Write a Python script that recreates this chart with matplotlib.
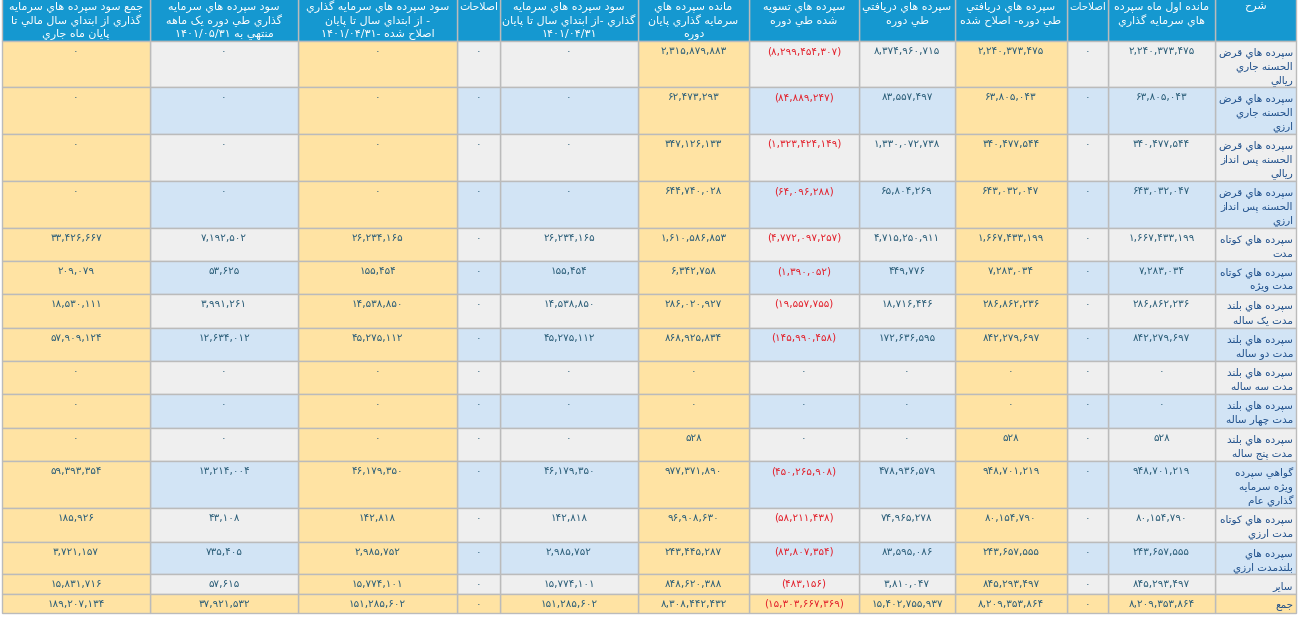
import re
import matplotlib
matplotlib.use("Agg")
import matplotlib.pyplot as plt
from matplotlib.patches import Rectangle

plt.rcParams['font.family'] = ['DejaVu Sans']

# ---- table content (columns in the original right-to-left order) ----
headers = [
    "شرح",
    "مانده اول ماه سپرده\nهاي سرمايه گذاري",
    "اصلاحات",
    "سپرده هاي دريافتي\nطي دوره- اصلاح شده",
    "سپرده هاي دريافتي\nطي دوره",
    "سپرده هاي تسويه\nشده طي دوره",
    "مانده سپرده هاي\nسرمايه گذاري پايان\nدوره",
    "سود سپرده هاي سرمايه\nگذاري -از ابتداي سال تا پايان\n۱۴۰۱/۰۴/۳۱",
    "اصلاحات",
    "سود سپرده هاي سرمايه گذاري\n- از ابتداي سال تا پايان\nاصلاح شده -۱۴۰۱/۰۴/۳۱",
    "سود سپرده هاي سرمايه\nگذاري طي دوره يک ماهه\nمنتهي به ۱۴۰۱/۰۵/۳۱",
    "جمع سود سپرده هاي سرمايه\nگذاري از ابتداي سال مالي تا\nپايان ماه جاري",
]

row_labels = [
    "سپرده هاي قرض\nالحسنه جاري\nريالي",
    "سپرده هاي قرض\nالحسنه جاري\nارزي",
    "سپرده هاي قرض\nالحسنه پس انداز\nريالي",
    "سپرده هاي قرض\nالحسنه پس انداز\nارزي",
    "سپرده هاي کوتاه\nمدت",
    "سپرده هاي کوتاه\nمدت ويژه",
    "سپرده هاي بلند\nمدت يک ساله",
    "سپرده هاي بلند\nمدت دو ساله",
    "سپرده هاي بلند\nمدت سه ساله",
    "سپرده هاي بلند\nمدت چهار ساله",
    "سپرده هاي بلند\nمدت پنج ساله",
    "گواهي سپرده\nويژه سرمايه\nگذاري عام",
    "سپرده هاي کوتاه\nمدت ارزي",
    "سپرده هاي\nبلندمدت ارزي",
    "ساير",
    "جمع",
]

mandeh_aval = [2240373475, 63805043, 340477544, 643032047, 1667433199, 7283034,
               286862236, 842279697, 0, 0, 528, 948701219, 80154790, 243657555,
               845293497, 8209353864]
eslahat_1 = [0, 0, 0, 0, 0, 0, 0, 0, 0, 0, 0, 0, 0, 0, 0, 0]
daryafti_eslah = [2240373475, 63805043, 340477544, 643032047, 1667433199, 7283034,
                  286862236, 842279697, 0, 0, 528, 948701219, 80154790, 243657555,
                  845293497, 8209353864]
daryafti = [8374960715, 83557497, 1330072738, 65804269, 4715250911, 449776,
            18716446, 172636595, 0, 0, 0, 478936579, 74965278, 83595086,
            3810047, 15402755937]
tasvieh = [8299454307, 84889247, 1323424149, 64096288, 4772097257, 1390052,
           19557755, 145990458, 0, 0, 0, 450265908, 58211438, 83807354,
           483156, 15303667369]
mandeh_payan = [2315879883, 62473293, 347126133, 644740028, 1610586853, 6342758,
                286020927, 868925834, 0, 0, 528, 977371890, 96908630, 243445287,
                848620388, 8308442432]
sood_04 = [0, 0, 0, 0, 26234165, 155454, 14538850, 45275112, 0, 0, 0,
           46179350, 142818, 2985752, 15774101, 151285602]
eslahat_2 = [0, 0, 0, 0, 0, 0, 0, 0, 0, 0, 0, 0, 0, 0, 0, 0]
sood_04_eslah = [0, 0, 0, 0, 26234165, 155454, 14538850, 45275112, 0, 0, 0,
                 46179350, 142818, 2985752, 15774101, 151285602]
sood_mah = [0, 0, 0, 0, 7192502, 53625, 3991261, 12634012, 0, 0, 0,
            13214004, 43108, 735405, 57615, 37921532]
jam_sood = [0, 0, 0, 0, 33426667, 209079, 18530111, 57909124, 0, 0, 0,
            59393354, 185926, 3721157, 15831716, 189207134]

# numeric columns, right to left after the label column
num_cols = [mandeh_aval, eslahat_1, daryafti_eslah, daryafti, tasvieh, mandeh_payan,
            sood_04, eslahat_2, sood_04_eslah, sood_mah, jam_sood]
neg_col = 4          # tasvieh is shown in red brackets
yellow_cols = {3, 6, 9, 11}   # logical column index (0 = شرح)

# ---- simple arabic shaping + rtl ordering (matplotlib does neither) ----
FORMS = {
    'ا': ('\uFE8D', '\uFE8E'), 'آ': ('\uFE81', '\uFE82'),
    'د': ('\uFEA9', '\uFEAA'), 'ذ': ('\uFEAB', '\uFEAC'),
    'ر': ('\uFEAD', '\uFEAE'), 'ز': ('\uFEAF', '\uFEB0'),
    'ژ': ('\uFB8A', '\uFB8B'), 'و': ('\uFEED', '\uFEEE'),
    'ب': ('\uFE8F', '\uFE90', '\uFE91', '\uFE92'),
    'پ': ('\uFB56', '\uFB57', '\uFB58', '\uFB59'),
    'ت': ('\uFE95', '\uFE96', '\uFE97', '\uFE98'),
    'ج': ('\uFE9D', '\uFE9E', '\uFE9F', '\uFEA0'),
    'چ': ('\uFB7A', '\uFB7B', '\uFB7C', '\uFB7D'),
    'ح': ('\uFEA1', '\uFEA2', '\uFEA3', '\uFEA4'),
    'س': ('\uFEB1', '\uFEB2', '\uFEB3', '\uFEB4'),
    'ش': ('\uFEB5', '\uFEB6', '\uFEB7', '\uFEB8'),
    'ص': ('\uFEB9', '\uFEBA', '\uFEBB', '\uFEBC'),
    'ض': ('\uFEBD', '\uFEBE', '\uFEBF', '\uFEC0'),
    'ط': ('\uFEC1', '\uFEC2', '\uFEC3', '\uFEC4'),
    'ع': ('\uFEC9', '\uFECA', '\uFECB', '\uFECC'),
    'ف': ('\uFED1', '\uFED2', '\uFED3', '\uFED4'),
    'ق': ('\uFED5', '\uFED6', '\uFED7', '\uFED8'),
    'ک': ('\uFB8E', '\uFB8F', '\uFB90', '\uFB91'),
    'گ': ('\uFB92', '\uFB93', '\uFB94', '\uFB95'),
    'ل': ('\uFEDD', '\uFEDE', '\uFEDF', '\uFEE0'),
    'م': ('\uFEE1', '\uFEE2', '\uFEE3', '\uFEE4'),
    'ن': ('\uFEE5', '\uFEE6', '\uFEE7', '\uFEE8'),
    'ه': ('\uFEE9', '\uFEEA', '\uFEEB', '\uFEEC'),
    'ي': ('\uFEF1', '\uFEF2', '\uFEF3', '\uFEF4'),
    'ی': ('\uFBFC', '\uFBFD', '\uFBFE', '\uFBFF'),
}
LAM_ALEF = {'ا': ('\uFEFB', '\uFEFC'), 'آ': ('\uFEF5', '\uFEF6')}


def dual(c):
    return c in FORMS and len(FORMS[c]) == 4


def shape(txt):
    out = []
    i = 0
    while i < len(txt):
        c = txt[i]
        linked_prev = i > 0 and dual(txt[i - 1])
        if c == 'ل' and i + 1 < len(txt) and txt[i + 1] in LAM_ALEF:
            out.append(LAM_ALEF[txt[i + 1]][1 if linked_prev else 0])
            i += 2
            continue
        if c not in FORMS:
            out.append(c)
            i += 1
            continue
        f = FORMS[c]
        nxt = txt[i + 1] if i + 1 < len(txt) else ''
        linked_next = len(f) == 4 and nxt in FORMS
        if linked_prev and linked_next:
            out.append(f[3])
        elif linked_prev:
            out.append(f[1])
        elif linked_next:
            out.append(f[2])
        else:
            out.append(f[0])
        i += 1
    return ''.join(out)


def fa(line):
    # keep digit runs left-to-right, flip everything else
    toks = re.findall(r'[0-9۰-۹][0-9۰-۹/,]*|.', shape(line))
    return ''.join(reversed(toks))


FA_DIGITS = str.maketrans('0123456789', '۰۱۲۳۴۵۶۷۸۹')


def fa_num(v):
    return f"{v:,}".translate(FA_DIGITS)


# ---- layout ----
W, H = 1298, 618
col_edges = [2, 150, 298, 457, 500, 638, 749, 859, 955, 1067, 1108, 1215, 1296]
row_edges = [-2, 41, 87, 134, 181, 228, 261, 294, 328, 361, 394, 428, 461, 508,
             542, 574, 594, 613]

HEAD_BG = '#1598D0'
YELLOW = '#FFE3A3'
GRAY = '#EFEFEF'
BLUE = '#D2E4F5'
GRID = '#BBBBBB'
NUM_C = '#2A5D78'
LBL_C = '#1D4E8A'
RED = '#E3202B'

fig = plt.figure(figsize=(W / 100, H / 100), dpi=100)
ax = fig.add_axes([0, 0, 1, 1])
ax.set_xlim(0, W)
ax.set_ylim(H, 0)
ax.axis('off')
renderer = fig.canvas.get_renderer()

ncol = len(col_edges) - 1


def xspan(logical_col):
    # logical col 0 is the rightmost column
    v = ncol - 1 - logical_col
    return col_edges[v], col_edges[v + 1]


# header
for j, h in enumerate(headers):
    x0, x1 = xspan(j)
    ax.add_patch(Rectangle((x0, row_edges[0]), x1 - x0, row_edges[1] - row_edges[0],
                           facecolor=HEAD_BG, edgecolor=GRID, lw=1))
    lines = []
    for k, line in enumerate(h.split('\n')):
        t = ax.text((x0 + x1) / 2, 7 + 13.5 * k, fa(line), color='white',
                    fontsize=8, ha='center', va='center')
        lines.append(t)
    # same shrink for every line of one cell so they stay even
    widest = max(t.get_window_extent(renderer).width for t in lines)
    if widest > x1 - x0 - 4:
        for t in lines:
            t.set_fontsize(8 * (x1 - x0 - 4) / widest)

# body
nrows = len(row_labels)
for i in range(nrows):
    y0, y1 = row_edges[i + 1], row_edges[i + 2]
    base = GRAY if i % 2 == 0 else BLUE
    for j in range(ncol):
        x0, x1 = xspan(j)
        fc = YELLOW if (j in yellow_cols or i == nrows - 1) else base
        ax.add_patch(Rectangle((x0, y0), x1 - x0, y1 - y0, facecolor=fc,
                               edgecolor=GRID, lw=1))
    # label column, right aligned
    lx0, lx1 = xspan(0)
    for k, line in enumerate(row_labels[i].split('\n')):
        ax.text(lx1 - 3, y0 + 12 + 14 * k, fa(line), color=LBL_C, fontsize=7.5,
                ha='right', va='center')
    for c, col in enumerate(num_cols):
        x0, x1 = xspan(c + 1)
        v = col[i]
        s = fa_num(v)
        color = NUM_C
        if c == neg_col and v:
            s = '(' + s + ')'
            color = RED
        ax.text((x0 + x1) / 2, y0 + 10, s, color=color, fontsize=7.5,
                ha='center', va='center')

fig.savefig('out.png', dpi=100)
